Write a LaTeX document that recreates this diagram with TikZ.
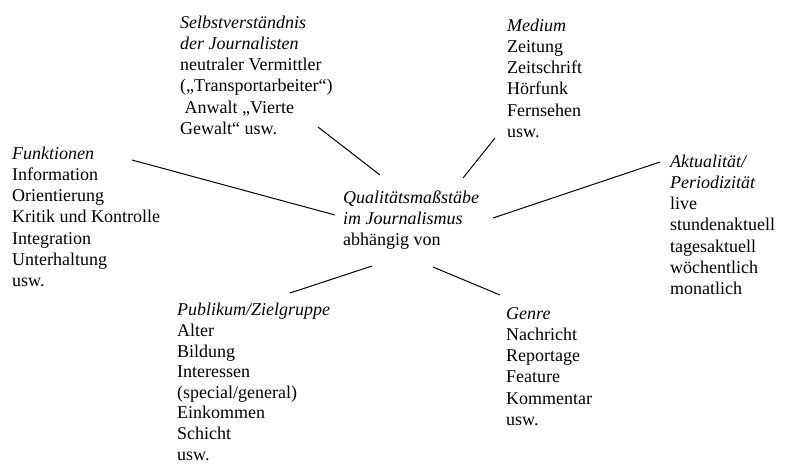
\documentclass[tikz,border=0pt]{standalone}
\usepackage{fontspec}
\setmainfont{Liberation Serif}
\usetikzlibrary{positioning}

\begin{document}
\begin{tikzpicture}[x=1pt,y=-1pt,
    block/.style={anchor=base west, align=left, inner sep=0pt,
        font={\fontsize{18}{21.3}\selectfont}},
    spoke/.style={line width=1pt}]
        \useasboundingbox (0,0) rectangle (787,466);

        % Define the text blocks (placed by the baseline of their last line)
        \node[block] (mitte) at (343,245.6) {\textit{Qualitätsmaßstäbe}\\\textit{im Journalismus}\\abhängig von};
        \node[block] (funk) at (12,286.8) {\textit{Funktionen}\\Information\\Orientierung\\Kritik und Kontrolle\\Integration\\Unterhaltung\\usw.};
        \node[block] (selbst) at (180,134.5) {\textit{Selbstverständnis}\\\textit{der Journalisten}\\neutraler Vermittler\\(„Transportarbeiter“)\\\hspace*{0.25em}Anwalt „Vierte\\Gewalt“ usw.};
        \node[block] (medium) at (507,137.5) {\textit{Medium}\\Zeitung\\Zeitschrift\\Hörfunk\\Fernsehen\\usw.};
        \node[block] (aktual) at (670,294.8) {\textit{Aktualität/}\\\textit{Periodizität}\\live\\stundenaktuell\\tagesaktuell\\wöchentlich\\monatlich};
        \node[block, font={\fontsize{18}{20.6}\selectfont}] (publikum) at (177,460) {\textit{Publikum/Zielgruppe}\\Alter\\Bildung\\Interessen\\(special/general)\\Einkommen\\Schicht\\usw.};
        \node[block] (genre) at (506,425.5) {\textit{Genre}\\Nachricht\\Reportage\\Feature\\Kommentar\\usw.};

        % Ends of the spokes
        \coordinate (funk-a) at (132,160);
        \coordinate (funk-b) at (335,215);
        \coordinate (selbst-a) at (318,127);
        \coordinate (selbst-b) at (380,175);
        \coordinate (medium-a) at (495,138);
        \coordinate (medium-b) at (463,178);
        \coordinate (aktual-a) at (660,162);
        \coordinate (aktual-b) at (493,218);
        \coordinate (publikum-a) at (290,293);
        \coordinate (publikum-b) at (372,266);
        \coordinate (genre-a) at (500,295);
        \coordinate (genre-b) at (433,267);

        % Draw the spokes
        \draw[spoke] (funk-a) -- (funk-b);
        \draw[spoke] (selbst-a) -- (selbst-b);
        \draw[spoke] (medium-a) -- (medium-b);
        \draw[spoke] (aktual-a) -- (aktual-b);
        \draw[spoke] (publikum-a) -- (publikum-b);
        \draw[spoke] (genre-a) -- (genre-b);
    \end{tikzpicture}
\end{document}
